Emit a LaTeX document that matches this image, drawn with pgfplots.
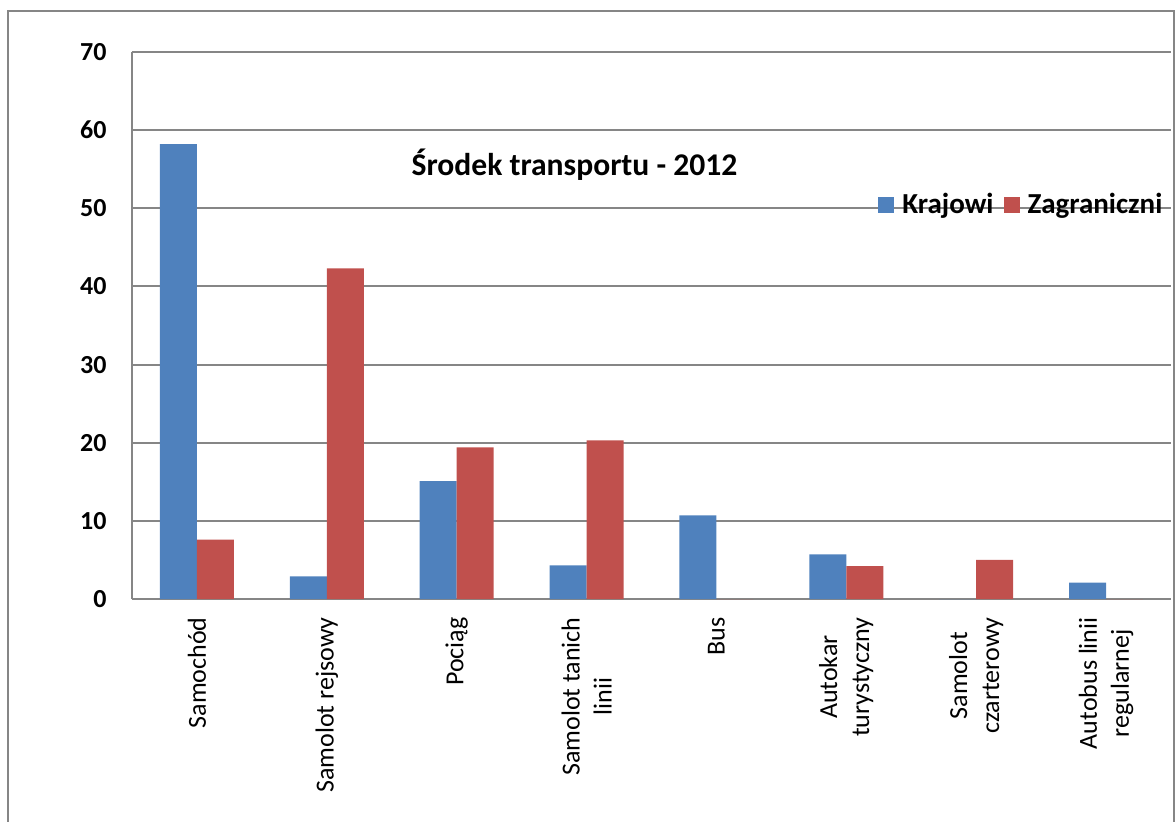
\documentclass[border=0pt]{standalone}
\usepackage{fontspec}
\setmainfont{Carlito}
\usepackage{pgfplots}
\pgfplotsset{compat=1.18}
\definecolor{krajowi}{HTML}{4F81BD}
\definecolor{zagr}{HTML}{C0504D}
\definecolor{siatka}{HTML}{868686}

\begin{document}
\begin{tikzpicture}
\useasboundingbox (-66pt,-111pt) rectangle (521.5pt,299.5pt);
% ramka wykresu
\draw[siatka, line width=1pt] (-62pt,-120pt) -- (-62pt,294pt) -- (521pt,294pt) -- (521pt,-120pt);
\begin{axis}[
  scale only axis,
  width=519.5pt, height=273.5pt,
  ybar=0pt, bar width=18.5pt,
  xmin=-0.5, xmax=7.5, ymin=0, ymax=70,
  ytick={0,10,...,70},
  xtick={0,...,7},
  xticklabels={Samochód, Samolot rejsowy, Pociąg, {Samolot tanich\\linii}, Bus,
    {Autokar\\turystyczny}, {Samolot\\czarterowy}, {Autobus linii\\regularnej}},
  x tick label style={rotate=90, anchor=east, align=center,
    font=\fontsize{13}{16}\selectfont, inner sep=0pt},
  xticklabel shift=9pt,
  y tick label style={font=\bfseries\fontsize{13}{16}\selectfont, inner sep=0pt},
  yticklabel shift=12.5pt,
  /pgf/number format/assume math mode=true,
  axis x line*=bottom, axis y line*=left,
  axis line style={siatka, line width=1pt, -},
  ymajorgrids, grid style={siatka, line width=1pt},
  major tick length=0pt,
  legend image code/.code={\path[#1] (0pt,-4pt) rectangle (8pt,4pt);},
  legend columns=-1,
  legend style={at={(rel axis cs:0.994,0.72)}, anchor=east, draw=none, fill=none,
    inner sep=0pt, font=\bfseries\fontsize{14.5}{17}\selectfont,
    nodes={inner sep=1pt},
    /tikz/every odd column/.append style={column sep=3pt},
    /tikz/every even column/.append style={column sep=4pt}},
]
\addplot[fill=krajowi, draw=none] coordinates {
  (0,58.2) (1,2.9) (2,15.1) (3,4.3) (4,10.7) (5,5.7) (6,0) (7,2.1)
};
\addplot[fill=zagr, draw=none] coordinates {
  (0,7.6) (1,42.3) (2,19.4) (3,20.3) (4,0) (5,4.2) (6,5.0) (7,0)
};
\legend{Krajowi, Zagraniczni}
\node[font=\bfseries\fontsize{15.8}{19}\selectfont, anchor=base]
  at (rel axis cs:0.4259,0.775) {Środek transportu - 2012};
\end{axis}
\end{tikzpicture}
\end{document}
